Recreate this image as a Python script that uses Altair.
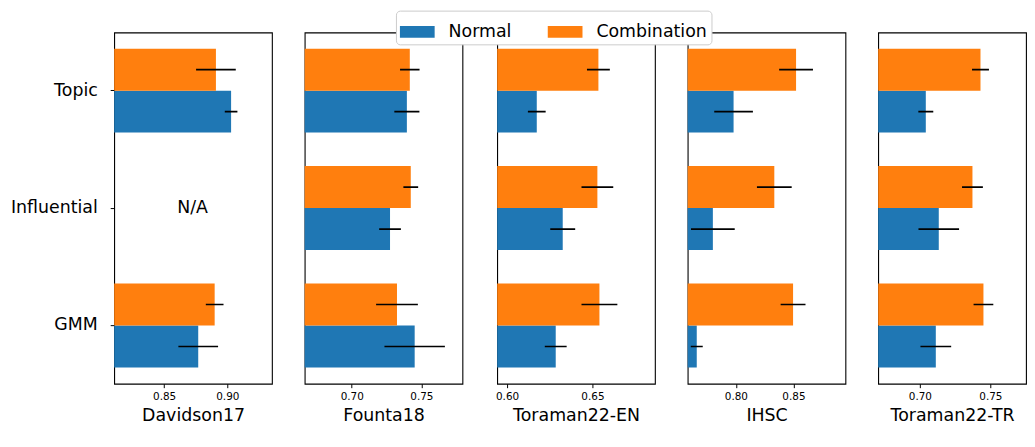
import altair as alt
import pandas as pd

datasets = ["Davidson17", "Founta18", "Toraman22-EN", "IHSC", "Toraman22-TR"]
methods = ["Topic", "Influential", "GMM"]
series = ["Normal", "Combination"]

# values in order Topic, Influential, GMM (None = N/A)
davidson_normal = [0.903, None, 0.877]
davidson_normal_err = [0.005, None, 0.0157]
davidson_comb = [0.891, None, 0.890]
davidson_comb_err = [0.0157, None, 0.007]

founta_normal = [0.7396, 0.7275, 0.7452]
founta_normal_err = [0.009, 0.0078, 0.0217]
founta_comb = [0.7417, 0.7424, 0.7325]
founta_comb_err = [0.007, 0.0053, 0.015]

toraman_en_normal = [0.6174, 0.6326, 0.6285]
toraman_en_normal_err = [0.0052, 0.0073, 0.0064]
toraman_en_comb = [0.6535, 0.6529, 0.6541]
toraman_en_comb_err = [0.0067, 0.0093, 0.0105]

ihsc_normal = [0.798, 0.780, 0.766]
ihsc_normal_err = [0.0168, 0.019, 0.0052]
ihsc_comb = [0.8523, 0.8334, 0.8497]
ihsc_comb_err = [0.0147, 0.0151, 0.0108]

toraman_tr_normal = [0.7042, 0.7134, 0.7113]
toraman_tr_normal_err = [0.0053, 0.0144, 0.0109]
toraman_tr_comb = [0.743, 0.7373, 0.7451]
toraman_tr_comb_err = [0.006, 0.0074, 0.007]

x_domains = [[0.8105, 0.9353], [0.6662, 0.7795], [0.5942, 0.6866], [0.7581, 0.8952], [0.6704, 0.7753]]
x_ticks = [[0.85, 0.90], [0.70, 0.75], [0.60, 0.65], [0.80, 0.85], [0.70, 0.75]]
panel_widths = [159, 159, 159, 159, 149]

na_dataset = "Davidson17"
na_method = "Influential"
na_x = 0.8725
na_label = "N/A"

all_vals = {
    "Davidson17": (davidson_normal, davidson_normal_err, davidson_comb, davidson_comb_err),
    "Founta18": (founta_normal, founta_normal_err, founta_comb, founta_comb_err),
    "Toraman22-EN": (toraman_en_normal, toraman_en_normal_err, toraman_en_comb, toraman_en_comb_err),
    "IHSC": (ihsc_normal, ihsc_normal_err, ihsc_comb, ihsc_comb_err),
    "Toraman22-TR": (toraman_tr_normal, toraman_tr_normal_err, toraman_tr_comb, toraman_tr_comb_err),
}

rows = []
for ds, (nv, ne, cv, ce) in all_vals.items():
    for m, a, ae, b, be in zip(methods, nv, ne, cv, ce):
        if a is not None:
            rows.append({"dataset": ds, "method": m, "series": "Normal", "value": a, "lo": a - ae, "hi": a + ae})
        if b is not None:
            rows.append({"dataset": ds, "method": m, "series": "Combination", "value": b, "lo": b - be, "hi": b + be})
df = pd.DataFrame(rows)

BLUE = "#1f77b4"
ORANGE = "#ff7f0e"
FONT = "DejaVu Sans"
BIG = 17.5

color_enc = alt.Color(
    "series:N",
    scale=alt.Scale(domain=series, range=[BLUE, ORANGE]),
    legend=alt.Legend(
        title=None,
        orient="none",
        legendX=284,
        legendY=-22,
        direction="horizontal",
        columns=2,
        columnPadding=36,
        labelFontSize=BIG,
        labelFont=FONT,
        labelColor="black",
        labelOffset=14,
        symbolType="M-1,-0.34H1V0.34H-1Z",
        symbolSize=1225,
        symbolStrokeWidth=0,
        symbolOpacity=1,
        padding=4,
        strokeColor="#cccccc",
        fillColor="white",
        cornerRadius=4,
    ),
)


def y_enc(i):
    if i == 0:
        ax = alt.Axis(title=None, labelFontSize=BIG, labelFont=FONT, labelColor="black",
                      tickSize=4, tickColor="black", labelPadding=13, minExtent=106,
                      maxExtent=106, domain=False)
    else:
        ax = None
    return alt.Y("method:N", sort=methods,
                 scale=alt.Scale(domain=methods, paddingInner=0.285, paddingOuter=0.138), axis=ax)


yoff = alt.YOffset("series:N", sort=["Combination", "Normal"],
                   scale=alt.Scale(domain=["Combination", "Normal"], paddingInner=0, paddingOuter=0))

panels = []
for i, ds in enumerate(datasets):
    sub = df[df["dataset"] == ds]
    xs = alt.Scale(domain=x_domains[i], zero=False, nice=False)
    xax = alt.Axis(values=x_ticks[i], format=".2f", title=ds, labelFontSize=10.5, titleFontSize=BIG,
                   labelFont=FONT, titleFont=FONT, titleFontWeight="normal", tickSize=4,
                   labelPadding=4, titlePadding=5, grid=False, domain=False,
                   labelColor="black", titleColor="black", tickColor="black")
    base = alt.Chart(sub)
    bars = base.mark_bar(clip=True).encode(
        x=alt.X("value:Q", scale=xs, axis=xax),
        y=y_enc(i),
        yOffset=yoff,
        color=color_enc,
    )
    errs = base.mark_rule(color="black", strokeWidth=1.7, clip=True).encode(
        x=alt.X("lo:Q", scale=xs),
        x2="hi:Q",
        y=y_enc(i),
        yOffset=yoff,
    )
    layers = [bars, errs]
    if ds == na_dataset:
        na_df = pd.DataFrame({"method": [na_method], "value": [na_x], "label": [na_label]})
        txt = alt.Chart(na_df).mark_text(fontSize=BIG, font=FONT, color="black").encode(
            x=alt.X("value:Q", scale=xs),
            y=y_enc(i),
            text="label:N",
        )
        layers.append(txt)
    panels.append(alt.layer(*layers).properties(width=panel_widths[i], height=354))

chart = alt.hconcat(*panels, spacing=31).properties(
    padding={"left": 0, "right": 0, "top": 0, "bottom": 0}
).configure_view(stroke="black", strokeWidth=1.1).configure_axis(grid=False)

chart.save("out.html", embed_options={"renderer": "svg", "actions": False})
